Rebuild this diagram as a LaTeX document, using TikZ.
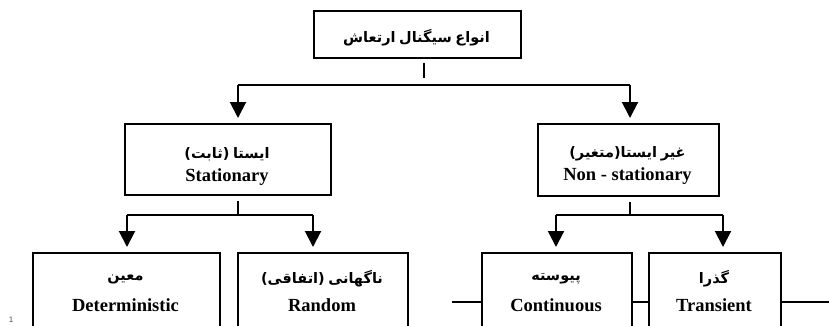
\documentclass[tikz,border=0pt]{standalone}
\usepackage{fontspec}
\setmainfont{Liberation Serif}
\newfontfamily\fa[Script=Arabic]{DejaVu Sans}
\newfontfamily\lsans{Liberation Sans}
\TeXXeTstate=1
\usetikzlibrary{arrows.meta}
\newcommand\pw[1]{\beginR{\fa\bfseries #1}\endR}
\newcommand\pp[1]{{\fa\bfseries #1}}
\begin{document}
\begin{tikzpicture}[x=1pt,y=-1pt,line width=2pt,
  box/.style={draw,line width=2pt,inner sep=0pt,anchor=north west},
  fatxt/.style={inner sep=0pt,font=\fontsize{14.5}{16}\selectfont},
  entxt/.style={inner sep=0pt,font=\fontsize{18.5}{20}\selectfont\bfseries},
  arr/.style={-{Triangle[width=16pt,length=16pt]},shorten >=5pt},
  conn/.style={line width=2pt}]
\useasboundingbox (0,0) rectangle (829,325);
\clip (0,0) rectangle (829,325);
% boxes
\node[box,minimum width=207pt,minimum height=47pt] (top) at (313,10) {};
\node[box,minimum width=206pt,minimum height=71pt] (stat) at (124,123) {};
\node[box,minimum width=181pt,minimum height=72pt] (nonst) at (537,123) {};
\node[box,minimum width=187pt,minimum height=110pt] (det) at (32,252) {};
\node[box,minimum width=170pt,minimum height=110pt] (rand) at (237,252) {};
\node[box,minimum width=150pt,minimum height=110pt] (cont) at (481,252) {};
\node[box,minimum width=132pt,minimum height=110pt] (trans) at (648,252) {};
% texts
\node[fatxt] (topT) at (416.5,38) {\pw{ارتعاش} \pw{سیگنال} \pw{انواع}};
\node[fatxt] (statP) at (227,154) {\pp{)}\pw{ثابت}\pp{(} \pw{ایستا}};
\node[entxt] (statE) at (227,177) {Stationary};
\node[fatxt] (nonP) at (627.5,154) {\pp{)}\pw{متغیر}\pp{(}\pw{ایستا} \pw{غیر}};
\node[entxt] (nonE) at (627.5,176) {Non - stationary};
\node[fatxt] (detP) at (125.5,279) {\pw{معین}};
\node[entxt] (detE) at (125.5,305) {Deterministic};
\node[fatxt] (randP) at (322,279) {\pp{)}\pw{اتفاقی}\pp{(} \pw{ناگهانی}};
\node[entxt] (randE) at (322,305) {Random};
\node[fatxt] (contP) at (556,279) {\pw{پیوسته}};
\node[entxt] (contE) at (556,305) {Continuous};
\node[fatxt] (transP) at (714,279) {\pw{گذرا}};
\node[entxt] (transE) at (714,305) {Transient};
\node[inner sep=0pt,font=\lsans\fontsize{8}{8}\selectfont,text=black!70] (pg) at (11,320) {1};
% top level connectors
\coordinate (s1a) at (424,63);
\coordinate (s1b) at (424,78);
\draw[conn] (s1a) -- (s1b);
\coordinate (jL) at (238,85);
\coordinate (jR) at (630,85);
\draw[conn] (jL) -- (jR);
\draw[conn,arr] (jL) -- (jL |- stat.north);
\draw[conn,arr] (jR) -- (jR |- nonst.north);
% stationary branch
\coordinate (s2) at (238,215);
\draw[conn] (s2 |- stat.south) ++(0,5) -- (s2);
\coordinate (dL) at (127,215);
\coordinate (dR) at (313,215);
\draw[conn] (dL) -- (dR);
\draw[conn,arr] (dL) -- (dL |- det.north);
\draw[conn,arr] (dR) -- (dR |- rand.north);
% non-stationary branch
\coordinate (s3) at (630,215);
\draw[conn] (s3 |- nonst.south) ++(0,5) -- (s3);
\coordinate (cL) at (556,215);
\coordinate (cR) at (723,215);
\draw[conn] (cL) -- (cR);
\draw[conn,arr] (cL) -- (cL |- cont.north);
\draw[conn,arr] (cR) -- (cR |- trans.north);
% side lines
\coordinate (h1) at (452,302);
\coordinate (h3) at (829,302);
\draw[conn] (h1) -- (h1 -| cont.west);
\draw[conn] (h1 -| cont.east) -- (h1 -| trans.west);
\draw[conn] (h1 -| trans.east) -- (h3);
\end{tikzpicture}
\end{document}
